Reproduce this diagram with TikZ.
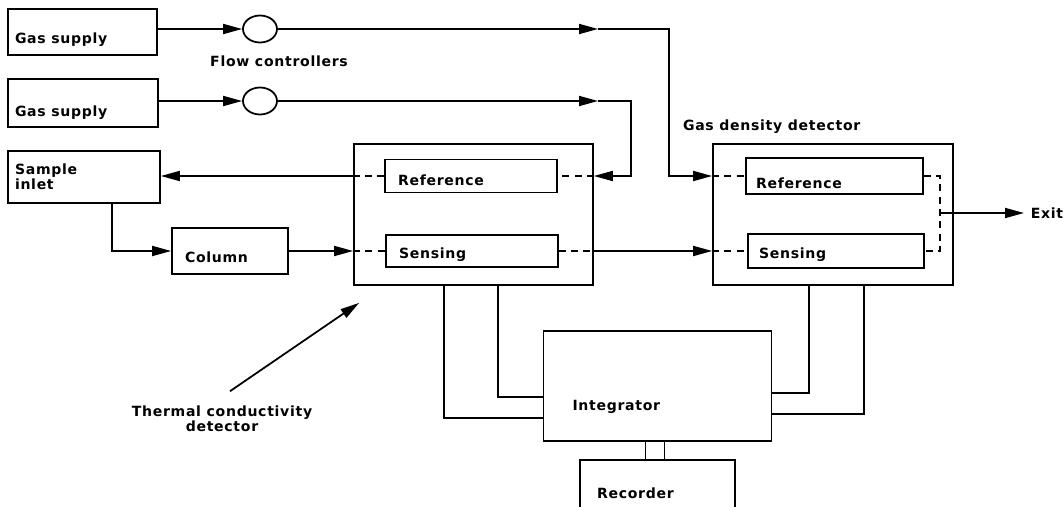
\documentclass[tikz,border=0pt]{standalone}
\usepackage{fontspec}
\setmainfont[LetterSpace=5]{DejaVu Sans}
\usetikzlibrary{arrows.meta,positioning,shapes.geometric}

\begin{document}
\begin{tikzpicture}[x=0.02cm,y=-0.02cm,line width=1pt,
  >={Triangle[length=0.38cm,width=0.2cm]},
  flow/.style={->},
  dline/.style={dash pattern=on 4pt off 3pt},
  unit/.style={draw,inner sep=0pt},
  valve/.style={draw,ellipse,inner sep=0pt,minimum width=0.68cm,minimum height=0.54cm},
  lbl/.style={inner sep=0pt,font=\fontsize{8}{8.5}\selectfont\bfseries}]
  \useasboundingbox (0,0) rectangle (1063,507);

  % units
  \node[unit,minimum width=2.98cm,minimum height=0.92cm] (gsA)   at (82.5,32)  {};
  \node[unit,minimum width=3.0cm, minimum height=0.96cm] (gsB)   at (83,103)   {};
  \node[unit,minimum width=3.04cm,minimum height=1.04cm] (inlet) at (84,177)   {};
  \node[unit,minimum width=2.32cm,minimum height=0.92cm] (column) at (230,251) {};
  \node[valve] (fcA) at (260,29)  {};
  \node[valve] (fcB) at (260,101) {};

  \node[unit,minimum width=4.78cm,minimum height=2.82cm] (tcd)    at (473.5,214.5) {};
  \node[unit,minimum width=3.44cm,minimum height=0.66cm] (tcdref) at (471,176) {};
  \node[unit,minimum width=3.44cm,minimum height=0.64cm] (tcdsen) at (472,251) {};

  \node[unit,minimum width=4.8cm, minimum height=2.82cm] (gdd)    at (833,214.5) {};
  \node[unit,minimum width=3.54cm,minimum height=0.72cm] (gddref) at (834.5,176) {};
  \node[unit,minimum width=3.52cm,minimum height=0.68cm] (gddsen) at (836,251) {};

  \node[unit,minimum width=4.56cm,minimum height=2.2cm] (integ) at (657.5,386) {};
  \node[inner sep=0pt,minimum width=3.06cm,minimum height=0.92cm] (rec) at (657.5,484) {};
  \draw (rec.south west) -- (rec.north west) -- (rec.north east) -- (rec.south east);

  % texts
  \node[lbl,right=0.14cm of gsA.west,yshift=-0.16cm] {Gas supply};
  \node[lbl,right=0.14cm of gsB.west,yshift=-0.2cm] {Gas supply};
  \node[lbl,align=left,right=0.14cm of inlet.west] {Sample\\inlet};
  \node[lbl,right=0.26cm of column.west,yshift=-0.12cm] {Column};
  \node[lbl,right=0.26cm of tcdref.west,yshift=-0.08cm] {Reference};
  \node[lbl,right=0.26cm of tcdsen.west,yshift=-0.08cm] {Sensing};
  \node[lbl,right=0.2cm of gddref.west,yshift=-0.14cm] {Reference};
  \node[lbl,right=0.22cm of gddsen.west,yshift=-0.08cm] {Sensing};
  \node[lbl,right=0.58cm of integ.west,yshift=-0.42cm] {Integrator};
  \node[lbl,right=0.32cm of rec.west,yshift=-0.18cm] {Recorder};
  \node[lbl] at ([xshift=0.38cm,yshift=-0.36cm]fcA.south) {Flow controllers};
  \node[lbl,anchor=west] at ([xshift=-0.6cm,yshift=0.32cm]gdd.north west) {Gas density detector};
  \node[lbl,align=center] (tcdlbl) at (222,419) {Thermal conductivity\\detector};
  \node[lbl,anchor=west] (exit) at (1030,213) {Exit};

  \coordinate (mA) at (598,29);
  \coordinate (kA) at (669,29);
  \coordinate (mB) at (598,101);
  \coordinate (kB) at (631,101);
  \coordinate (jR) at (940,213);

  % gas lines
  \draw[flow] (gsA.east |- fcA) -- (fcA.west);
  \draw[flow] (gsB.east |- fcB) -- (fcB.west);
  \draw[flow] (fcA.east) -- (mA);
  \draw[flow] (mA) -- (kA) |- (gdd.west |- gddref);
  \draw[dline] (gdd.west |- gddref) -- (gddref.west);
  \draw[flow] (fcB.east) -- (mB);
  \draw[flow] (mB) -- (kB) |- (tcd.east |- tcdref);
  \draw[dline] (tcd.east |- tcdref) -- (tcdref.east);
  \draw[dline] (tcdref.west) -- (tcd.west |- tcdref);
  \draw[flow] (tcd.west |- tcdref) -- (inlet.east |- tcdref);
  \draw[flow] ([xshift=0.56cm]inlet.south) |- (column.west);
  \draw[flow] (column.east) -- (tcd.west |- column.east);
  \draw[dline] (tcd.west |- tcdsen) -- (tcdsen.west);
  \draw[dline] (tcdsen.east) -- (tcd.east |- tcdsen);
  \draw[flow] (tcd.east |- tcdsen) -- (gdd.west |- gddsen);
  \draw[dline] (gdd.west |- gddsen) -- (gddsen.west);
  \draw[dline] (gddref.east) -| (jR) |- (gddsen.east);
  \draw[flow,shorten >=0.12cm] (jR) -- (exit.west);

  % signal wires
  \draw ([xshift=1.82cm]tcd.south west) |- ([yshift=-0.64cm]integ.west);
  \draw ([xshift=2.9cm]tcd.south west) |- ([yshift=-0.22cm]integ.west);
  \draw ([xshift=1.94cm]gdd.south west) |- ([yshift=-0.14cm]integ.east);
  \draw ([xshift=3.04cm]gdd.south west) |- ([yshift=-0.56cm]integ.east);
  \draw ([xshift=-0.24cm]integ.south) -- ([xshift=-0.24cm]rec.north);
  \draw ([xshift=0.14cm]integ.south) -- ([xshift=0.14cm]rec.north);

  \draw[flow] ([xshift=0.16cm,yshift=0.28cm]tcdlbl.north) -- ([xshift=0.12cm,yshift=-0.34cm]tcd.south west);
\end{tikzpicture}
\end{document}
